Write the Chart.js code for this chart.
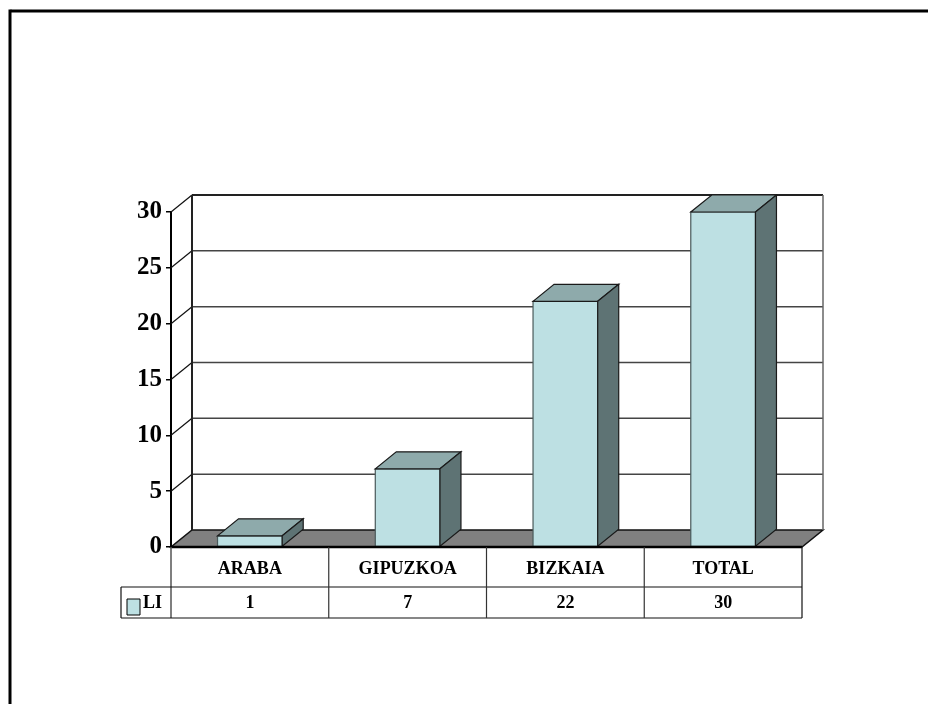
<html>
<head>
  <style>
    body { margin: 0; background: #fff; }
    #wrap { position: relative; width: 928px; height: 704px; }
  </style>
</head>
<body>
  <div id="wrap">
    <canvas id="liChart" width="928" height="704"></canvas>
  </div>

  <script src="https://cdn.jsdelivr.net/npm/chart.js"></script>
  <script>
    // datos
    const categories = ['ARABA', 'GIPUZKOA', 'BIZKAIA', 'TOTAL'];
    const liValues = [1, 7, 22, 30];
    const seriesName = 'LI';
    const yTicks = [0, 5, 10, 15, 20, 25, 30];

    const FRONT = '#bde0e3';
    const TOP = '#8eaaab';
    const SIDE = '#5e7374';
    const FLOOR = '#808080';
    const DX = 21, DY = 17;   // profundidad 3D
    const FONT = '"Liberation Serif", "Times New Roman", serif';

    function poly(ctx, pts, fill, stroke, lw) {
      ctx.beginPath();
      ctx.moveTo(pts[0][0], pts[0][1]);
      for (let i = 1; i < pts.length; i++) ctx.lineTo(pts[i][0], pts[i][1]);
      ctx.closePath();
      if (fill) { ctx.fillStyle = fill; ctx.fill(); }
      if (stroke) { ctx.strokeStyle = stroke; ctx.lineWidth = lw || 1; ctx.stroke(); }
    }

    function line(ctx, x1, y1, x2, y2, color, lw) {
      ctx.beginPath();
      ctx.moveTo(x1, y1);
      ctx.lineTo(x2, y2);
      ctx.strokeStyle = color;
      ctx.lineWidth = lw;
      ctx.stroke();
    }

    const bar3d = {
      id: 'bar3d',
      beforeDraw(chart) {
        const ctx = chart.ctx;
        ctx.save();
        // marco (solo arriba e izquierda visibles)
        line(ctx, 10.5, 11, 928, 11, '#000', 3);
        line(ctx, 10, 9.5, 10, 704, '#000', 3);
        ctx.restore();
      },
      beforeDatasetsDraw(chart) {
        const ctx = chart.ctx;
        const a = chart.chartArea;
        const y = chart.scales.y;
        const L = a.left, R = a.right, B = y.getPixelForValue(0), T = y.getPixelForValue(30);
        ctx.save();
        // suelo
        poly(ctx, [[L, B], [R, B], [R + DX, B - DY], [L + DX, B - DY]], FLOOR, '#111', 1.5);
        // rejilla de la pared del fondo y diagonales laterales
        yTicks.forEach(v => {
          const py = y.getPixelForValue(v);
          if (v > 0) {
            line(ctx, L + DX, py - DY, R + DX, py - DY, v === 30 ? '#222' : '#444', v === 30 ? 2 : 1.5);
            line(ctx, L, py, L + DX, py - DY, '#111', 1.2);
          }
        });
        line(ctx, L + DX, T - DY, L + DX, B - DY, '#222', 2);
        line(ctx, R + DX, T - DY, R + DX, B - DY, '#666', 1.5);
        ctx.restore();
      },
      afterDatasetsDraw(chart) {
        const ctx = chart.ctx;
        const meta = chart.getDatasetMeta(0);
        const x = chart.scales.x;
        const y = chart.scales.y;
        const a = chart.chartArea;
        const B = y.getPixelForValue(0);
        ctx.save();
        meta.data.forEach(bar => {
          const p = bar.getProps(['x', 'y', 'base', 'width'], true);
          const x1 = p.x - p.width / 2, x2 = p.x + p.width / 2;
          poly(ctx, [[x1, p.y], [x2, p.y], [x2, p.base], [x1, p.base]], null, '#4a5a5b', 1.2);
          poly(ctx, [[x1, p.y], [x2, p.y], [x2 + DX, p.y - DY], [x1 + DX, p.y - DY]], TOP, '#1a1a1a', 1.2);
          poly(ctx, [[x2, p.y], [x2 + DX, p.y - DY], [x2 + DX, p.base - DY], [x2, p.base]], SIDE, '#1a1a1a', 1.2);
        });
        // eje frontal
        line(ctx, a.left - 1, B, a.right, B, '#000', 2.5);

        // tabla de datos
        const L = a.left, R = a.right;
        const r1 = B, r2 = B + 40, r3 = B + 71;
        const keyL = L - 50;
        line(ctx, L, r1, L, r3, '#555', 1.5);
        line(ctx, R, r1, R, r3, '#111', 1.2);
        line(ctx, keyL, r2, R, r2, '#111', 1.2);
        line(ctx, keyL, r3, R, r3, '#111', 1.2);
        line(ctx, keyL, r2, keyL, r3, '#111', 1.2);
        const n = categories.length;
        const step = (R - L) / n;
        for (let i = 1; i < n; i++) {
          line(ctx, L + step * i, r1, L + step * i, r3, '#333', 1.2);
        }
        ctx.fillStyle = '#000';
        ctx.font = 'bold 18px ' + FONT;
        ctx.textAlign = 'center';
        ctx.textBaseline = 'middle';
        categories.forEach((c, i) => {
          const cx = x.getPixelForValue(i);
          ctx.fillText(c, cx, (r1 + r2) / 2 + 2);
          ctx.fillText(String(liValues[i]), cx, (r2 + r3) / 2 + 1);
        });
        // clave de leyenda
        poly(ctx, [[keyL + 6, r2 + 12], [keyL + 19, r2 + 12], [keyL + 19, r2 + 28], [keyL + 6, r2 + 28]], FRONT, '#000', 1);
        ctx.fillStyle = '#000';
        ctx.textAlign = 'left';
        ctx.fillText(seriesName, keyL + 22, (r2 + r3) / 2 + 1);
        ctx.restore();
      }
    };

    const ctx = document.getElementById('liChart').getContext('2d');
    window.liChartInstance = new Chart(ctx, {
      type: 'bar',
      data: {
        labels: categories,
        datasets: [{
          label: seriesName,
          data: liValues,
          backgroundColor: FRONT,
          borderColor: '#333',
          borderWidth: 0,
          borderSkipped: false,
          barPercentage: 0.41,
          categoryPercentage: 1
        }]
      },
      options: {
        responsive: false,
        animation: false,
        layout: { padding: { top: 212, right: 126, bottom: 157, left: 0 } },
        plugins: {
          legend: { display: false },
          tooltip: { enabled: false }
        },
        scales: {
          x: { display: false },
          y: {
            min: 0,
            max: 30,
            afterFit: s => { s.width = 171; },
            afterBuildTicks: s => { s.ticks = yTicks.map(v => ({ value: v })); },
            ticks: {
              color: '#000',
              padding: 4,
              font: { family: FONT, size: 25, weight: 'bold' }
            },
            grid: {
              drawOnChartArea: false,
              drawTicks: true,
              tickLength: 5,
              color: '#000',
              lineWidth: 1.5
            },
            border: { display: true, color: '#000', width: 2 }
          }
        }
      },
      plugins: [bar3d]
    });
  </script>
</body>
</html>
